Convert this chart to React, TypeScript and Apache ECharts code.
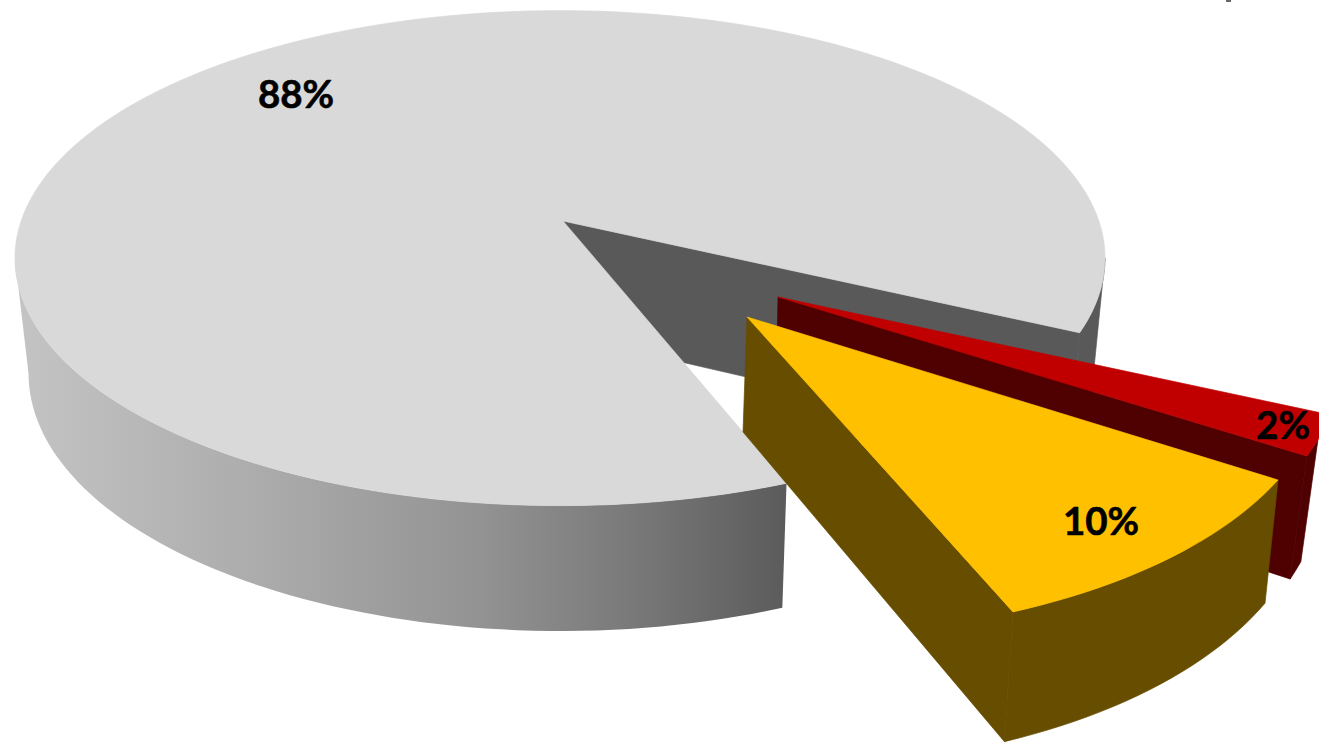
import React, { useEffect, useRef } from "react";
import * as echarts from "echarts";

// Shares of the pie, in drawing order, with their face and wall colours.
const shareValues = [88, 2, 10];
const faceColors = ["#d9d9d9", "#c00000", "#ffc000"];
const wallColors = ["#595959", "#4f0000", "#664d00"];

// Where the pie starts turning, in degrees clockwise from the +x axis.
const START_ANGLE = 68.8;

// Perspective frame of each slice: rim centre line, wedge tip, ellipse radii, tilt, lean and base.
const frames = [
  { ax: 560, ay: 221, tipX: 563, rx: 545, ry: 247.5, beta: -0.15, lean: 0, dropX: 1, dropY: 114, baseX: 0.977, baseY: 1.04, labelX: 296, labelY: 93 },
  { ax: 778, ay: 297, tipX: 778, rx: 627, ry: 285.4, beta: -0.5, lean: -0.61, dropX: -2, dropY: 113, baseX: 0.972, baseY: 1.063, labelX: 1283, labelY: 424 },
  { ax: 747, ay: 317, tipX: 747, rx: 574.5, ry: 285.7, beta: -0.117, lean: 0.1166, dropX: -4, dropY: 115, baseX: 0.983, baseY: 1.05, labelX: 1101, labelY: 520 },
];

const frontShade = [
  { offset: 0, color: "#c4c4c4" },
  { offset: 0.3, color: "#adadad" },
  { offset: 0.6, color: "#939393" },
  { offset: 0.8, color: "#797979" },
  { offset: 1, color: "#5b5b5b" },
];

type Frame = (typeof frames)[number];

const rad = (d: number) => (d * Math.PI) / 180;

// A point of the rim at angle t, seen through the slice's perspective tilt.
function rim(f: Frame, t: number, base: boolean): number[] {
  const s = Math.sin(rad(t));
  const c = Math.cos(rad(t));
  const b = f.beta;
  const dy = (f.ry * s * (1 - b * b)) / (1 + b * s);
  const dx = (f.rx * c * Math.sqrt(1 - b * b)) / (1 + b * s) + f.lean * dy;
  return base
    ? [f.ax + f.dropX + dx * f.baseX, f.ay + f.dropY + dy * f.baseY]
    : [f.ax + dx, f.ay + dy];
}

function arc(f: Frame, from: number, to: number, base: boolean): number[][] {
  const steps = Math.max(2, Math.ceil(Math.abs(to - from) / 1.5));
  const pts: number[][] = [];
  for (let i = 0; i <= steps; i++) pts.push(rim(f, from + ((to - from) * i) / steps, base));
  return pts;
}

// Parts of the rim that face the viewer: between the two silhouette tangents of the ellipse.
function visibleSpans(f: Frame, from: number, to: number): number[][] {
  const edge = (Math.asin(-f.beta) * 180) / Math.PI;
  const spans: number[][] = [];
  for (const k of [0, 360]) {
    const a = Math.max(from, edge + k);
    const b = Math.min(to, 180 - edge + k);
    if (b > a) spans.push([a, b]);
  }
  return spans;
}

function renderSlice(params: any, api: any) {
  const i = params.dataIndex;
  const total = shareValues.reduce((a, b) => a + b, 0);
  const before = shareValues.slice(0, i).reduce((a, b) => a + b, 0);
  const from = START_ANGLE + (before / total) * 360;
  const to = from + (api.value(0) / total) * 360;
  const f = frames[i];
  const tip = [f.tipX, f.ay];
  const tipBase = [f.tipX + f.dropX, f.ay + f.dropY];
  const solid = (color: string) => ({ fill: color, stroke: color, lineWidth: 0.7 });
  const children: any[] = [];

  for (const [a, b] of visibleSpans(f, from, to)) {
    const front = Math.sin(rad((a + b) / 2)) > 0.5 && i === 0;
    children.push({
      type: "polygon",
      shape: { points: [...arc(f, a, b, false), ...arc(f, b, a, true)] },
      style: front
        ? { fill: new echarts.graphic.LinearGradient(0, 0, 1, 0, frontShade) }
        : solid(wallColors[i]),
    });
  }
  children.push({
    type: "polygon",
    shape: { points: [tip, rim(f, to, false), rim(f, to, true), tipBase] },
    style: solid(wallColors[i]),
  });
  children.push({
    type: "polygon",
    shape: { points: [tip, ...arc(f, from, to, false)] },
    style: solid(faceColors[i]),
  });
  children.push({
    type: "text",
    style: {
      text: `${api.value(0)}%`,
      x: f.labelX,
      y: f.labelY,
      align: "center",
      verticalAlign: "middle",
      fontFamily: "Lato, Carlito, sans-serif",
      fontWeight: "bold",
      fontSize: 38.5,
      fill: "#000000",
      stroke: "#000000",
      lineWidth: 0.6,
    },
  });
  return { type: "group", children };
}

export default function App() {
  const ref = useRef<HTMLDivElement>(null);
  useEffect(() => {
    const chart = echarts.init(ref.current!, null, { renderer: "svg" });
    chart.setOption({
      animation: false,
      backgroundColor: "#ffffff",
      graphic: [
        { type: "rect", shape: { x: 1226, y: 0, width: 5, height: 2 }, style: { fill: "#666666" } },
      ],
      series: [
        {
          type: "custom",
          coordinateSystem: "none",
          renderItem: renderSlice,
          data: shareValues.map((v) => [v]),
        },
      ],
    });
    return () => chart.dispose();
  }, []);
  return <div ref={ref} style={{ position: "fixed", left: 0, top: 0, width: 1319, height: 742 }} />;
}
